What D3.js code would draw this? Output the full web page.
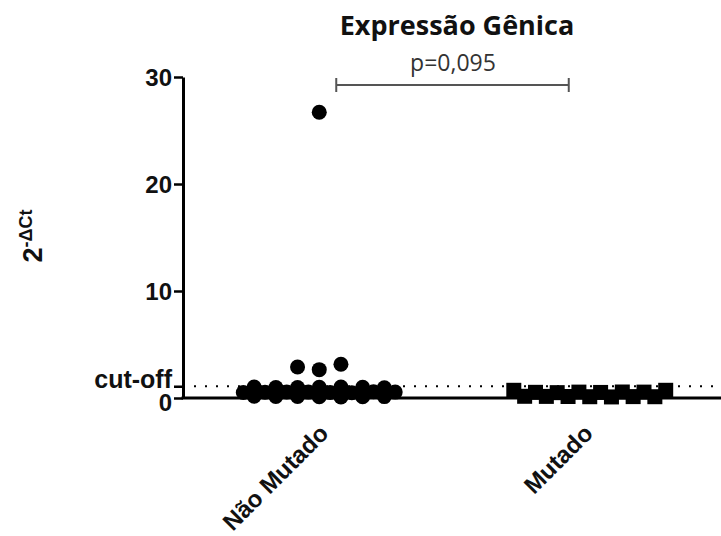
<!DOCTYPE html>
<html>
<head>
<meta charset="utf-8">
<script src="https://cdn.jsdelivr.net/npm/d3@7"></script>
<style>
  body { margin: 0; background: #fff; }
  svg { display: block; }
</style>
</head>
<body>
<svg id="chart" width="721" height="536"></svg>
<script>
// Groups and measured 2^-ΔCt values (one entry per sample)
const categories = ["Não Mutado", "Mutado"];
const naoMutado = [
  26.7,
  2.65, 2.9, 3.15,
  1.0, 0.98, 1.02, 0.97, 1.0, 1.03, 0.95,
  0.55, 0.52, 0.56, 0.5, 0.54, 0.58, 0.52, 0.55,
  0.12, 0.14, 0.1, 0.15, 0.12, 0.16, 0.13
];
const mutado = [
  0.55, 0.52, 0.5, 0.56, 0.53, 0.55, 0.72, 0.72,
  0.12, 0.14, 0.1, 0.15, 0.13, 0.16, 0.12
];
const yTicks = [0, 10, 20, 30];
const cutoff = 1.1;
const cutoffLabel = "cut-off";
const title = "Expressão Gênica";
const pLabel = "p=0,095";
const yLabelBase = "2";
const yLabelSup = "-ΔCt";

const W = 721, H = 536;
const svg = d3.select("#chart");

const y = d3.scaleLinear().domain([0, 30]).range([398, 77]);
const x = d3.scalePoint().domain(categories).range([184, 725]).padding(0.5);
const axisX = 183;

// Column scatter: values that lie close together share a row and are
// spread symmetrically about the column centre, in sample order.
function spreadRows(values, gap, step) {
  const sorted = values.map((v, i) => ({ v, i })).sort((a, b) => a.v - b.v);
  const rows = [];
  let cur = [];
  sorted.forEach((d, k) => {
    if (cur.length && d.v - sorted[k - 1].v > gap) { rows.push(cur); cur = []; }
    cur.push(d);
  });
  if (cur.length) rows.push(cur);
  const out = [];
  rows.forEach(row => {
    row.sort((a, b) => a.i - b.i);
    const n = row.length;
    row.forEach((d, j) => {
      let slot;
      if (n % 2) slot = j === 0 ? 0 : (j % 2 ? -(j + 1) / 2 : j / 2);
      else slot = (j % 2 ? 1 : -1) * (Math.floor(j / 2) + 0.5);
      out.push({ v: d.v, dx: slot * step });
    });
  });
  return out;
}

const step = 21.7;
const ptsA = spreadRows(naoMutado, 0.3, step);
const ptsB = spreadRows(mutado, 0.3, step);

// Title and significance annotation
svg.append("text")
  .attr("x", 457).attr("y", 35)
  .attr("text-anchor", "middle")
  .attr("font-family", "'Open Sans', sans-serif")
  .attr("font-weight", 700)
  .attr("font-size", 27)
  .attr("fill", "#111")
  .text(title);

svg.append("text")
  .attr("x", 453).attr("y", 71)
  .attr("text-anchor", "middle")
  .attr("font-family", "'Open Sans', sans-serif")
  .attr("font-size", 23)
  .attr("fill", "#333")
  .text(pLabel);

const bx0 = x(categories[0]) + 17, bx1 = x(categories[1]) - 21, by = 85;
const bracket = svg.append("g").attr("stroke", "#555").attr("stroke-width", 2).attr("fill", "none");
bracket.append("line").attr("x1", bx0).attr("x2", bx1).attr("y1", by).attr("y2", by);
bracket.append("line").attr("x1", bx0).attr("x2", bx0).attr("y1", by - 7).attr("y2", by + 7);
bracket.append("line").attr("x1", bx1).attr("x2", bx1).attr("y1", by - 7).attr("y2", by + 7);

// Cut-off reference line
svg.append("line")
  .attr("x1", axisX).attr("x2", W)
  .attr("y1", y(cutoff)).attr("y2", y(cutoff))
  .attr("stroke", "#000").attr("stroke-width", 2)
  .attr("stroke-dasharray", "2,9");

// Y axis
const yAxis = svg.append("g")
  .attr("transform", `translate(${axisX},0)`)
  .call(d3.axisLeft(y)
    .tickValues([cutoff, ...yTicks])
    .tickSize(9)
    .tickSizeOuter(0)
    .tickPadding(2)
    .tickFormat(d => d === cutoff ? cutoffLabel : d));
yAxis.select(".domain").attr("stroke", "#000").attr("stroke-width", 3);
yAxis.selectAll(".tick line").attr("stroke", "#000").attr("stroke-width", 2.5);
yAxis.selectAll(".tick text")
  .attr("font-family", "'Liberation Sans', Arial, sans-serif")
  .attr("font-weight", 700)
  .attr("font-size", d => d === cutoff ? 25 : 24)
  .attr("fill", "#111")
  .attr("dy", d => d === cutoff ? "0.05em" : (d === 0 ? "0.5em" : "0.35em"));

// Baseline
svg.append("line")
  .attr("x1", axisX - 1.5).attr("x2", W)
  .attr("y1", y(0)).attr("y2", y(0))
  .attr("stroke", "#000").attr("stroke-width", 3);

// Category labels
const xAxis = svg.append("g")
  .attr("transform", `translate(0,${y(0)})`)
  .call(d3.axisBottom(x).tickSize(0).tickPadding(0));
xAxis.select(".domain").remove();
xAxis.selectAll(".tick text")
  .attr("font-family", "'Liberation Sans', Arial, sans-serif")
  .attr("font-weight", 700)
  .attr("font-size", 24)
  .attr("fill", "#111")
  .attr("text-anchor", "end")
  .attr("dy", null)
  .attr("y", null)
  .attr("transform", (d, i) => `translate(${i ? 4 : 10},37) rotate(-45)`);

// Y axis title
const yt = svg.append("text")
  .attr("transform", "translate(42,236) rotate(-90)")
  .attr("text-anchor", "middle")
  .attr("font-family", "'Liberation Sans', Arial, sans-serif")
  .attr("font-weight", 700)
  .attr("fill", "#111");
yt.append("tspan").attr("font-size", 27).text(yLabelBase);
yt.append("tspan").attr("font-size", 18).attr("dy", -10).text(yLabelSup);

// Points: circles for the first group, squares for the second
const r = 7.5;
svg.append("g").selectAll("circle").data(ptsA).join("circle")
  .attr("cx", d => x(categories[0]) + d.dx)
  .attr("cy", d => y(d.v))
  .attr("r", r)
  .attr("fill", "#000");

const s = 15;
svg.append("g").selectAll("rect").data(ptsB).join("rect")
  .attr("x", d => x(categories[1]) + d.dx - s / 2)
  .attr("y", d => y(d.v) - s / 2)
  .attr("width", s).attr("height", s)
  .attr("fill", "#000");
</script>
</body>
</html>
